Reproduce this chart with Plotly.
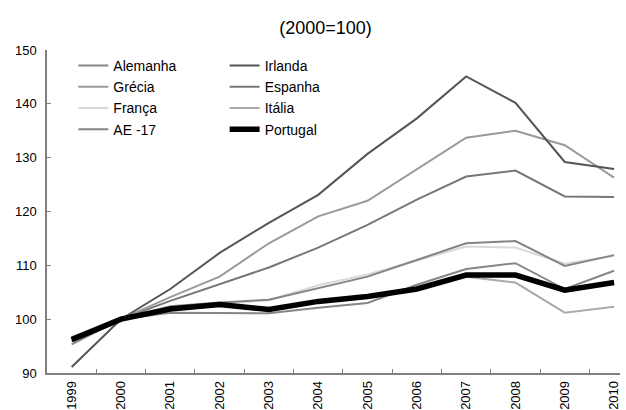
import plotly.graph_objects as go

years = ["1999", "2000", "2001", "2002", "2003", "2004", "2005",
         "2006", "2007", "2008", "2009", "2010"]

alemanha = [95.3, 100, 101.2, 101.2, 101.1, 102.1, 103.0, 106.4, 109.3, 110.4, 105.6, 109.0]
irlanda = [91.1, 100, 105.6, 112.3, 117.9, 123.1, 130.7, 137.3, 145.1, 140.2, 129.2, 127.9]
grecia = [96.5, 100, 104.1, 107.9, 114.1, 119.1, 122.0, 127.9, 133.7, 135.0, 132.3, 126.3]
espanha = [95.9, 100, 103.4, 106.5, 109.6, 113.3, 117.5, 122.2, 126.5, 127.6, 122.8, 122.7]
franca = [96.8, 100, 102.3, 102.9, 103.5, 106.3, 108.3, 110.9, 113.5, 113.3, 110.3, 111.8]
italia = [96.4, 100, 101.7, 102.5, 101.6, 103.1, 104.0, 105.4, 107.9, 106.8, 101.2, 102.3]
ae17 = [96.2, 100, 102.4, 103.1, 103.6, 105.8, 107.9, 111.0, 114.1, 114.5, 109.9, 111.9]
portugal = [96.2, 100, 101.9, 102.7, 101.8, 103.3, 104.2, 105.6, 108.2, 108.2, 105.4, 106.8]

# (name, values, colour, width, legend)
series = [
    ("Itália", italia, "#ababab", 2, "legend2"),
    ("França", franca, "#d9d9d9", 2, "legend"),
    ("AE -17", ae17, "#858585", 2, "legend"),
    ("Alemanha", alemanha, "#868686", 2, "legend"),
    ("Espanha", espanha, "#777777", 2, "legend2"),
    ("Grécia", grecia, "#9a9a9a", 2, "legend"),
    ("Irlanda", irlanda, "#555555", 2, "legend2"),
    ("Portugal", portugal, "#000000", 5.5, "legend2"),
]
rank = {"Alemanha": 1, "Grécia": 2, "França": 3, "AE -17": 4,
        "Irlanda": 1, "Espanha": 2, "Itália": 3, "Portugal": 4}

fig = go.Figure()
for name, vals, col, w, lg in series:
    fig.add_trace(go.Scatter(
        x=years, y=vals, mode="lines", name=name,
        line=dict(color=col, width=w), legend=lg, legendrank=rank[name]
    ))

leg_style = dict(font=dict(size=14, color="#000000"), bgcolor="rgba(0,0,0,0)",
                 xanchor="left", yanchor="top", tracegroupgap=0, itemwidth=30)

fig.update_layout(
    width=626, height=410,
    margin=dict(l=47, r=6, t=50, b=37),
    paper_bgcolor="white", plot_bgcolor="white",
    font=dict(family="Liberation Sans, Arial, sans-serif", color="#000000"),
    title=dict(text="(2000=100)", x=0.52, xanchor="center", y=0.932,
               yanchor="middle", yref="container", font=dict(size=18)),
    legend=dict(x=0.046, y=1.0, **leg_style),
    legend2=dict(x=0.31, y=1.0, **leg_style),
    showlegend=True,
)
fig.update_xaxes(
    type="category", range=[-0.5, 11.12], automargin=False,
    showline=True, linecolor="#808080", linewidth=1.5,
    ticks="inside", tickson="boundaries", ticklen=4, tickcolor="#808080",
    tickangle=-90, tickfont=dict(size=13), showgrid=False, zeroline=False,
    ticklabelstandoff=1,
)
fig.update_yaxes(
    range=[90, 150], dtick=10, automargin=False,
    showline=True, linecolor="#808080", linewidth=1.5,
    ticks="inside", ticklen=4, tickcolor="#808080",
    tickfont=dict(size=13), showgrid=False, zeroline=False,
    ticklabelstandoff=6,
)

# page body margin would shift the 626x410 figure inside the window
fig.write_html("out.html", config={"displayModeBar": False},
               post_script="document.body.style.margin='0';")
